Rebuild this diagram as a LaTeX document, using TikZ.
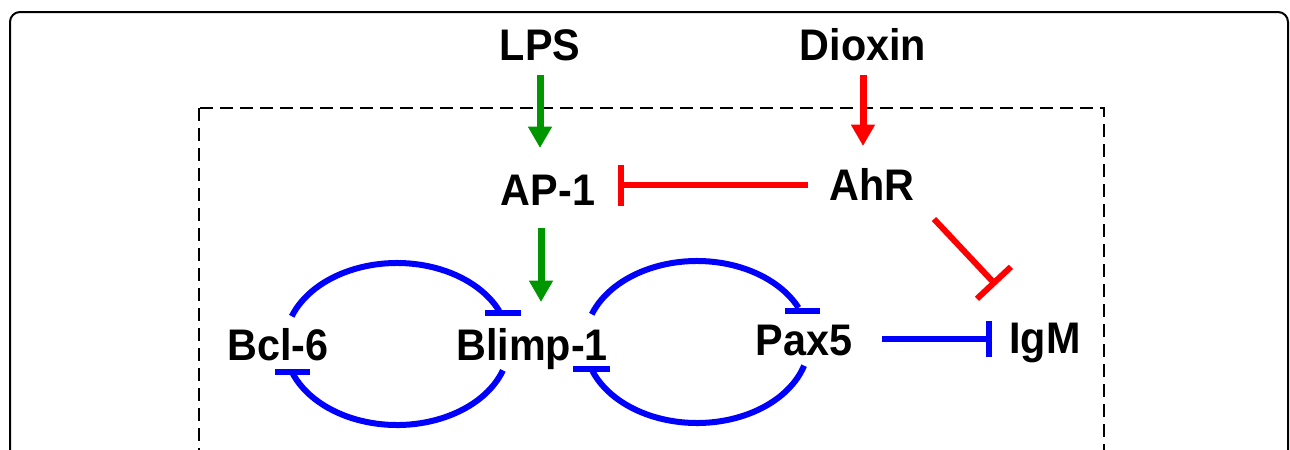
\documentclass[tikz,border=0pt]{standalone}
\usepackage{fontspec}
\usepackage{graphicx}
\setmainfont{Liberation Sans}
\usetikzlibrary{arrows.meta}
\definecolor{lgreen}{RGB}{0,150,0}
\definecolor{ired}{RGB}{255,0,0}
\definecolor{iblue}{RGB}{0,0,255}
\newcommand{\tall}[1]{\scalebox{1}[1.07]{#1}}
\begin{document}
\begin{tikzpicture}[x=0.75pt,y=-0.75pt,
  lbl/.style={font=\fontsize{31}{36}\selectfont\bfseries, inner sep=0pt, anchor=base},
  act/.style={line width=5.25pt, -{Triangle[width=17pt,length=16pt]}},
  inh/.style={line width=4.5pt},
  hbar/.style={line width=4.5pt},
  box/.style={line width=1.5pt, rounded corners=7.5pt},
  dbox/.style={line width=1.1pt, dash pattern=on 10pt off 5pt}
]
\useasboundingbox (0,0) rectangle (1290,450);
\begin{scope}
\clip (0,0) rectangle (1290,450);
\draw[box] (10,12) rectangle (1288,490);
\draw[dbox] (199,108) rectangle (1104,490);
\end{scope}

% labels
\node[lbl] (lps) at (540,60) {\tall{LPS}};
\node[lbl] (dioxin) at (863,60) {\tall{Dioxin}};
\node[lbl] (ap1) at (548,205) {\tall{AP-1}};
\node[lbl] (ahr) at (872,200) {\tall{AhR}};
\node[lbl] (bcl) at (278,360) {\tall{Bcl-6}};
\node[lbl] (blimp) at (532,360) {\tall{Blimp-1}};
\node[lbl] (pax) at (804,355) {\tall{Pax5}};
\node[lbl] (igm) at (1045,353) {\tall{IgM}};

% connector ends
\coordinate (lpsA) at (540,75);   \coordinate (ap1T) at (540,148);
\coordinate (dioA) at (863,75);   \coordinate (ahrT) at (863,146);
\coordinate (ap1B) at (541,228);  \coordinate (blimpT) at (541,302);
\coordinate (ahrL) at (808,185);  \coordinate (ap1R) at (618,185);
\coordinate (ahrD) at (934,219);  \coordinate (igmU) at (996,285);
\coordinate (paxR) at (882,339);  \coordinate (igmL) at (992,339);

\draw[act, lgreen] (lpsA) -- (ap1T);
\draw[act, ired] (dioA) -- (ahrT);
\draw[act, lgreen] (ap1B) -- (blimpT);
\draw[inh, ired, -{Bar[width=30.75pt]}] (ahrL) -- (ap1R);
\draw[inh, ired, -{Bar[width=35pt]}] (ahrD) -- (igmU);
\draw[inh, iblue, -{Bar[width=27pt]}] (paxR) -- (igmL);

% loops
\coordinate (c1) at (397,344);
\coordinate (c2) at (697,342);
\draw[inh, iblue] (c1) ++(200:112 and 81) arc[start angle=200, end angle=336, x radius=112, y radius=81];
\draw[hbar, iblue] (485,313) -- (521,313);
\draw[inh, iblue] (c1) ++(19:112 and 81) arc[start angle=19, end angle=160, x radius=112, y radius=81];
\draw[hbar, iblue] (275,372) -- (310,372);

\draw[inh, iblue] (c2) ++(200:112 and 81) arc[start angle=200, end angle=335, x radius=112, y radius=81];
\draw[hbar, iblue] (785,311) -- (820,311);
\draw[inh, iblue] (c2) ++(17:112 and 81) arc[start angle=17, end angle=159, x radius=112, y radius=81];
\draw[hbar, iblue] (573,369) -- (610,369);
\end{tikzpicture}
\end{document}
